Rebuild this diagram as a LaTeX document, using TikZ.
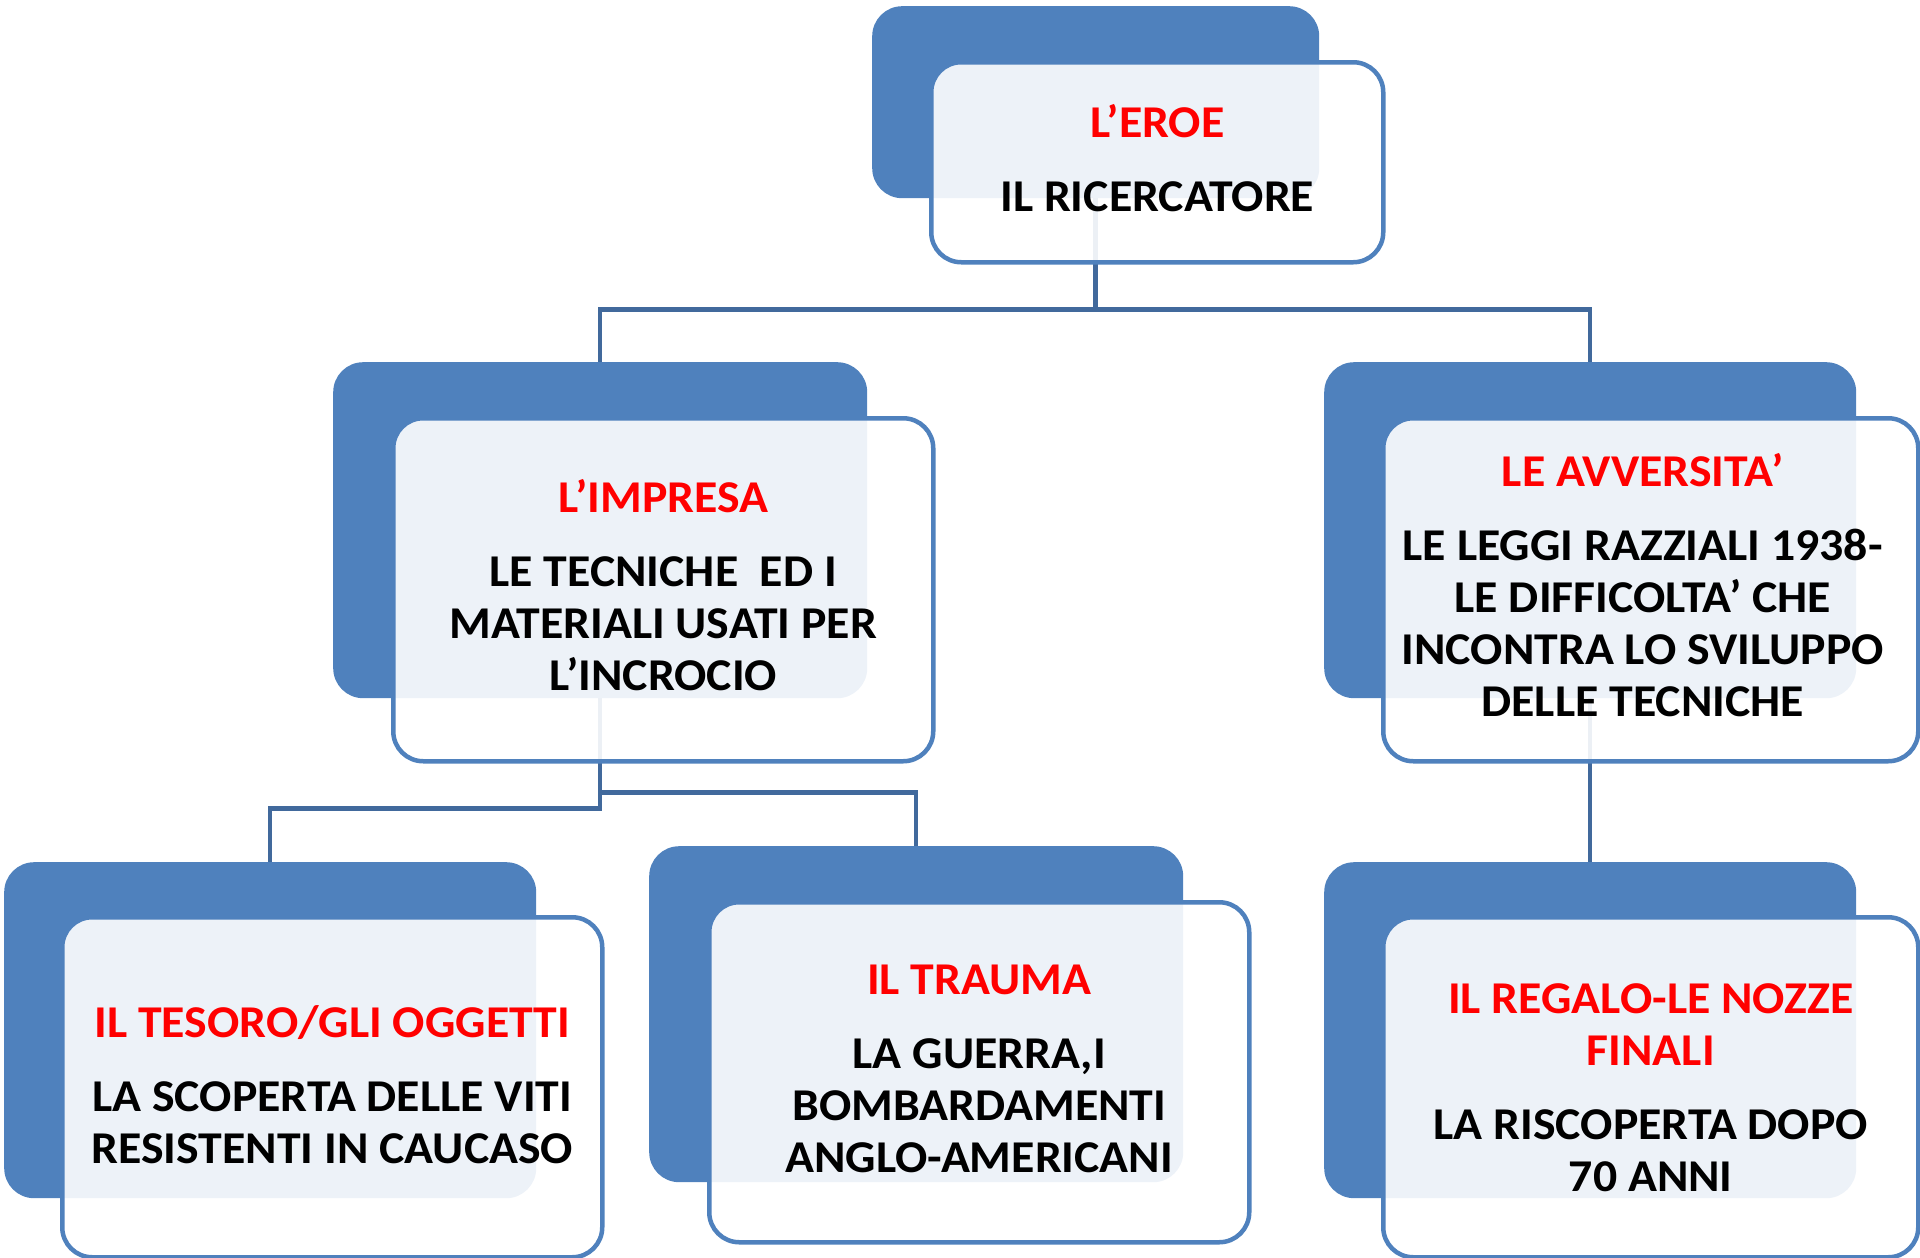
\documentclass[tikz,border=0pt]{standalone}
\usepackage{fontspec}
\setmainfont{Carlito}[FakeStretch=1.05]
\definecolor{accent}{HTML}{4F81BD}
\definecolor{conn}{HTML}{41699C}
\definecolor{titlered}{HTML}{FF0000}
\begin{document}
\begin{tikzpicture}[x=1pt,y=-1pt,
  backbox/.style={fill=accent,draw=none,rounded corners=30pt,inner sep=0pt,anchor=north west},
  frontbox/.style={fill=white,fill opacity=0.9,draw=accent,line width=4.5pt,rounded corners=30pt,inner sep=0pt,anchor=north west},
  lbl/.style={align=center,font=\fontsize{45.5}{52}\selectfont\bfseries,text=black,inner sep=0pt},
  connector/.style={draw=conn,line width=4.5pt}
]
\useasboundingbox (0,0) rectangle (1920,1258);

% back boxes
\node[backbox,minimum width=447pt,minimum height=192pt] (b0) at (872,6) {};
\node[backbox,minimum width=534pt,minimum height=336pt] (b1) at (333,362) {};
\node[backbox,minimum width=532pt,minimum height=336pt] (b2) at (1324,362) {};
\node[backbox,minimum width=532pt,minimum height=336pt] (b3) at (4,862) {};
\node[backbox,minimum width=534pt,minimum height=336pt] (b4) at (649,846) {};
\node[backbox,minimum width=532pt,minimum height=336pt] (b5) at (1324,862) {};

% connectors (behind the front boxes)
\coordinate (j0) at ([yshift=-111pt]b0.south);
\draw[connector] (b0.south) -- (j0) -| (b1.north);
\draw[connector] (j0) -| (b2.north);
\coordinate (j1) at ([yshift=-94pt]b1.south);
\coordinate (j2) at ([yshift=-110pt]b1.south);
\draw[connector] (b1.south) -- (j2) -| (b3.north);
\draw[connector] (j1) -| (b4.north);
\draw[connector] (b2.south) -- (b5.north);

% front boxes
\node[frontbox,minimum width=452pt,minimum height=200pt] (f0) at (929,60) {};
\node[frontbox,minimum width=540pt,minimum height=343pt] (f1) at (391,416) {};
\node[frontbox,minimum width=535pt,minimum height=343pt] (f2) at (1381,416) {};
\node[frontbox,minimum width=540pt,minimum height=340pt] (f3) at (60,915) {};
\node[frontbox,minimum width=540pt,minimum height=340pt] (f4) at (707,900) {};
\node[frontbox,minimum width=535pt,minimum height=340pt] (f5) at (1381,915) {};

% texts
\node[lbl] (t0) at ([yshift=4pt]f0.center) {\textcolor{titlered}{L’EROE}\\[22pt]IL RICERCATORE};
\node[lbl] (t1) at ([yshift=5pt]f1.center) {\textcolor{titlered}{L’IMPRESA}\\[22pt]LE TECNICHE\ \ ED I\\MATERIALI USATI PER\\L’INCROCIO};
\node[lbl] (t2) at ([yshift=5pt,xshift=-8pt]f2.center) {\textcolor{titlered}{LE AVVERSITA’}\\[22pt]LE LEGGI RAZZIALI 1938-\\LE DIFFICOLTA’ CHE\\INCONTRA LO SVILUPPO\\DELLE TECNICHE};
\node[lbl] (t3) at ([yshift=3pt]f3.center) {\textcolor{titlered}{IL TESORO/GLI OGGETTI}\\[22pt]LA SCOPERTA DELLE VITI\\RESISTENTI IN CAUCASO};
\node[lbl] (t4) at ([yshift=3pt]f4.center) {\textcolor{titlered}{IL TRAUMA}\\[22pt]LA GUERRA,I\\BOMBARDAMENTI\\ANGLO-AMERICANI};
\node[lbl] (t5) at ([yshift=0pt]f5.center) {\textcolor{titlered}{IL REGALO-LE NOZZE}\\\textcolor{titlered}{FINALI}\\[22pt]LA RISCOPERTA DOPO\\70 ANNI};
\end{tikzpicture}
\end{document}
